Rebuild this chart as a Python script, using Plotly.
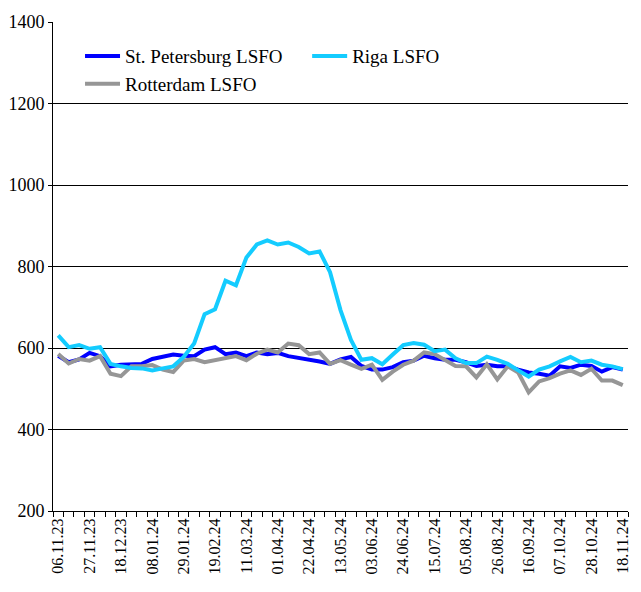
import plotly.graph_objects as go

# weekly prices, USD/t
dates = [
    "06.11.23", "13.11.23", "20.11.23", "27.11.23", "04.12.23", "11.12.23", "18.12.23",
    "25.12.23", "01.01.24", "08.01.24", "15.01.24", "22.01.24", "29.01.24", "05.02.24",
    "12.02.24", "19.02.24", "26.02.24", "04.03.24", "11.03.24", "18.03.24", "25.03.24",
    "01.04.24", "08.04.24", "15.04.24", "22.04.24", "29.04.24", "06.05.24", "13.05.24",
    "20.05.24", "27.05.24", "03.06.24", "10.06.24", "17.06.24", "24.06.24", "01.07.24",
    "08.07.24", "15.07.24", "22.07.24", "29.07.24", "05.08.24", "12.08.24", "19.08.24",
    "26.08.24", "02.09.24", "09.09.24", "16.09.24", "23.09.24", "30.09.24", "07.10.24",
    "14.10.24", "21.10.24", "28.10.24", "04.11.24", "11.11.24", "18.11.24",
]

st_petersburg = [
    581, 565, 572, 588, 580, 555, 559, 561, 561, 573, 578, 584, 581, 580,
    596, 602, 585, 589, 580, 589, 585, 588, 580, 576, 572, 567, 561, 572,
    578, 556, 547, 547, 553, 565, 569, 581, 575, 571, 571, 565, 556, 559,
    555, 555, 547, 540, 537, 532, 555, 551, 559, 556, 542, 553, 547,
]
riga = [
    631, 602, 607, 598, 602, 561, 555, 551, 550, 545, 550, 555, 578, 611,
    683, 695, 765, 754, 822, 854, 864, 854, 859, 848, 832, 837, 786, 693,
    620, 571, 575, 560, 584, 607, 612, 608, 592, 596, 575, 563, 563, 579,
    571, 561, 545, 530, 547, 555, 567, 578, 565, 569, 559, 555, 548,
]
rotterdam = [
    585, 562, 573, 569, 580, 537, 531, 555, 555, 558, 547, 541, 569, 573,
    565, 570, 573, 580, 570, 586, 596, 589, 611, 607, 585, 589, 561, 570,
    559, 549, 559, 522, 542, 559, 569, 589, 585, 571, 556, 555, 528, 560,
    523, 555, 540, 491, 518, 526, 537, 545, 534, 549, 520, 520, 509,
]

FONT = "Liberation Serif, Times New Roman, serif"
x = list(range(len(dates)))

# draw order as in the reference: blue, then grey, then cyan on top
fig = go.Figure()
fig.add_trace(go.Scatter(
    x=x, y=st_petersburg, mode="lines", name="St. Petersburg LSFO",
    line=dict(color="#0000ff", width=4), legend="legend",
))
fig.add_trace(go.Scatter(
    x=x, y=rotterdam, mode="lines", name="Rotterdam LSFO",
    line=dict(color="#969696", width=4), legend="legend",
))
fig.add_trace(go.Scatter(
    x=x, y=riga, mode="lines", name="Riga LSFO",
    line=dict(color="#14ccff", width=4), legend="legend2",
))

# the page body has an 8px margin, so the margins are trimmed to compensate
fig.update_layout(
    width=641, height=592,
    margin=dict(l=45, r=21, t=14, b=89),
    paper_bgcolor="white", plot_bgcolor="white",
    font=dict(family=FONT, color="black", size=18),
    legend=dict(
        x=0.047, y=0.969, xanchor="left", yanchor="top",
        bgcolor="rgba(0,0,0,0)", font=dict(size=19, family=FONT),
        tracegroupgap=0, itemwidth=35,
    ),
    legend2=dict(
        x=0.442, y=0.969, xanchor="left", yanchor="top",
        bgcolor="rgba(0,0,0,0)", font=dict(size=19, family=FONT),
        itemwidth=35,
    ),
    xaxis=dict(
        range=[-0.5, len(dates) - 0.5], automargin=False,
        tickmode="array", tickvals=x[::3], ticktext=dates[::3],
        tickangle=-90, ticks="", showgrid=False, zeroline=False,
        showline=True, linecolor="black", linewidth=1,
        tickfont=dict(size=16, family=FONT),
        minor=dict(tick0=-0.5, dtick=1, ticks="outside", ticklen=5,
                   tickcolor="black", showgrid=False),
    ),
    yaxis=dict(
        range=[200, 1400], dtick=200, ticks="outside", ticklen=4,
        automargin=False,
        tickcolor="black", showgrid=True, gridcolor="black", gridwidth=1,
        zeroline=False, showline=True, linecolor="black", linewidth=1,
        tickfont=dict(size=18, family=FONT),
    ),
)

fig.write_html("out.html")
